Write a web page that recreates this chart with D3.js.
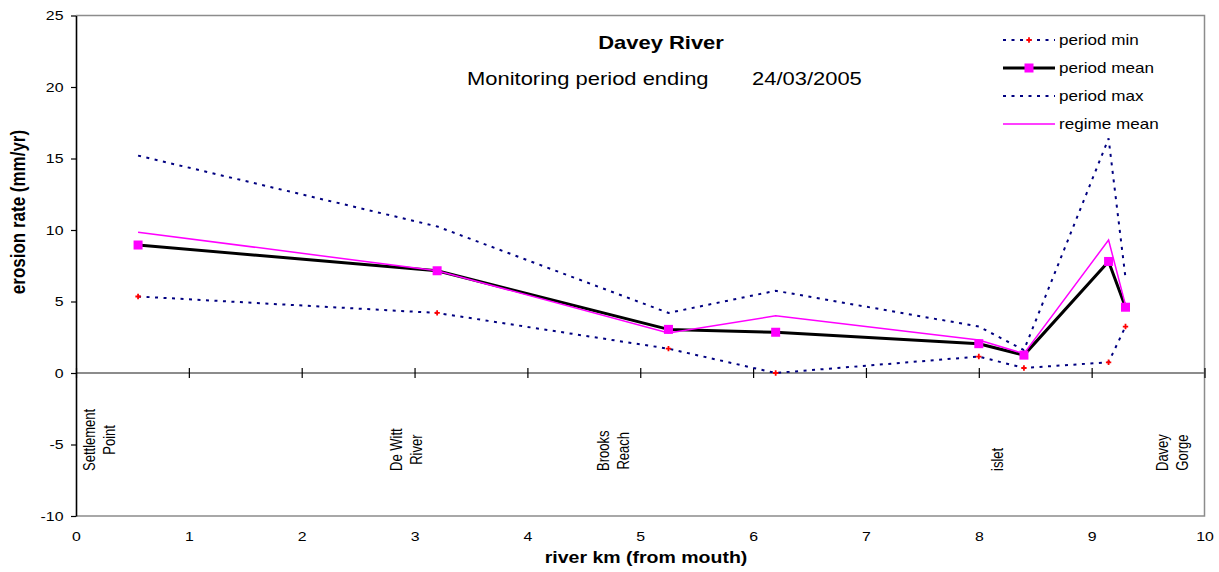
<!DOCTYPE html>
<html>
<head>
<meta charset="utf-8">
<script src="https://cdn.jsdelivr.net/npm/d3@7/dist/d3.min.js"></script>
<style>
  html, body { margin: 0; padding: 0; background: #fff; }
  svg { display: block; font-family: "Liberation Sans", Arial, sans-serif; }
</style>
</head>
<body>
<svg id="chart" width="1219" height="572"></svg>
<script>
// ---------------- data ----------------
const riverKm    = [0.55, 3.2, 5.25, 6.2, 8.0, 8.4, 9.15, 9.3];
const periodMin  = [5.35, 4.2, 1.7, 0.0, 1.15, 0.35, 0.75, 3.25];
const periodMean = [8.95, 7.15, 3.05, 2.85, 2.05, 1.25, 7.8, 4.6];
const periodMax  = [15.2, 10.25, 4.2, 5.75, 3.25, 1.6, 16.4, 6.65];
const regimeMean = [9.85, 7.15, 2.8, 4.0, 2.3, 1.35, 9.3, 4.75];

const xTicks = [0, 1, 2, 3, 4, 5, 6, 7, 8, 9, 10];
const yTicks = [-10, -5, 0, 5, 10, 15, 20, 25];

const siteNames = [["Settlement", "Point"], ["De Witt", "River"], ["Brooks", "Reach"], ["islet"], ["Davey", "Gorge"]];
const siteKm    = [0.2, 2.92, 4.76, 8.16, 9.71];

const legendLabels = ["period min", "period mean", "period max", "regime mean"];

const titleText = "Davey River";
const subtitleText = "Monitoring period ending";
const dateText = "24/03/2005";
const xTitle = "river km (from mouth)";
const yTitle = "erosion rate (mm/yr)";

// ---------------- layout ----------------
const SX = 1.22; // horizontal glyph stretch seen in the reference
const svg = d3.select("#chart");
const x = d3.scaleLinear().domain([0, 10]).range([76, 1204.5]);
const y = d3.scaleLinear().domain([-10, 25]).range([516, 15.5]);

const navy = "#000080", magenta = "#ff00ff";

function sText(g, txt, tx, ty, opt = {}) {
  const t = g.append("text")
    .attr("transform", `translate(${tx},${ty}) scale(${SX},1)` + (opt.rotate ? " rotate(-90)" : ""))
    .attr("font-size", opt.size || 13)
    .attr("font-weight", opt.bold ? "bold" : "normal")
    .attr("text-anchor", opt.anchor || "start")
    .attr("fill", "#000")
    .text(txt);
  if (opt.dy) t.attr("dy", opt.dy);
  return t;
}

// frame (top, right, bottom) grey
svg.append("path")
  .attr("d", `M${x(0)},${y(25)}H${x(10)}V${y(-10)}H${x(0)}`)
  .attr("fill", "none").attr("stroke", "#8c8c8c").attr("stroke-width", 1.5);

// zero line
svg.append("line")
  .attr("x1", x(0)).attr("x2", x(10)).attr("y1", y(0)).attr("y2", y(0))
  .attr("stroke", "#8c8c8c").attr("stroke-width", 2);

// x ticks crossing zero line
const xTickG = svg.append("g").attr("transform", `translate(0,${y(0)})`)
  .call(d3.axisBottom(x).tickValues(xTicks).tickFormat("").tickSizeOuter(0).tickSizeInner(5));
xTickG.select(".domain").remove();
xTickG.selectAll(".tick line").attr("y1", -5).attr("y2", 5).attr("stroke", "#000").attr("stroke-width", 1.2);

// x tick labels along bottom
const xLabG = svg.append("g").attr("transform", `translate(0,${y(-10)})`)
  .call(d3.axisBottom(x).tickValues(xTicks).tickFormat(d => String(d)).tickSize(0).tickPadding(15.8));
xLabG.select(".domain").remove();
xLabG.selectAll(".tick text")
  .attr("font-size", 13).attr("font-family", "Liberation Sans, Arial, sans-serif")
  .attr("fill", "#000").attr("transform", `scale(${SX},1)`);

// y axis
const yAxG = svg.append("g").attr("transform", `translate(${x(0)},0)`)
  .call(d3.axisLeft(y).tickValues(yTicks).tickFormat(d => String(d)).tickSizeOuter(0).tickSizeInner(5).tickPadding(7.5));
yAxG.select(".domain").attr("stroke", "#000").attr("stroke-width", 1.6);
yAxG.selectAll(".tick line").attr("stroke", "#000").attr("stroke-width", 1.2);
yAxG.selectAll(".tick text")
  .attr("font-size", 13).attr("font-family", "Liberation Sans, Arial, sans-serif").attr("fill", "#000")
  .each(function () {
    const tx = +this.getAttribute("x");
    d3.select(this).attr("x", 0).attr("transform", `translate(${tx},0) scale(${SX},1)`);
  });

// ---------------- series ----------------
const pts = vals => vals.map((v, i) => [x(riverKm[i]), y(v)]);
const line = d3.line();

const plot = svg.append("g");
plot.append("path").attr("d", line(pts(periodMin)))
  .attr("fill", "none").attr("stroke", navy).attr("stroke-width", 2).attr("stroke-dasharray", "3,5.5");
plot.append("path").attr("d", line(pts(periodMax)))
  .attr("fill", "none").attr("stroke", navy).attr("stroke-width", 2).attr("stroke-dasharray", "3,5.5");
plot.append("path").attr("d", line(pts(periodMean)))
  .attr("fill", "none").attr("stroke", "#000").attr("stroke-width", 3).attr("stroke-linejoin", "round");
plot.append("path").attr("d", line(pts(regimeMean)))
  .attr("fill", "none").attr("stroke", magenta).attr("stroke-width", 1.5);

const cross = d3.symbol().type(d3.symbolCross).size(16);
plot.selectAll(".minMark").data(pts(periodMin)).join("path")
  .attr("class", "minMark").attr("d", cross)
  .attr("transform", d => `translate(${d[0]},${d[1]})`).attr("fill", "#ff0000");

plot.selectAll(".meanMark").data(pts(periodMean)).join("rect")
  .attr("class", "meanMark")
  .attr("x", d => d[0] - 4.5).attr("y", d => d[1] - 4.5)
  .attr("width", 9).attr("height", 9).attr("fill", magenta);

// ---------------- site labels ----------------
const siteG = svg.append("g");
siteNames.forEach((lines, i) => {
  const cx = x(siteKm[i]);
  const n = lines.length;
  const texts = lines.map((ln, j) =>
    sText(siteG, ln, cx + (j - (n - 1) / 2) * 20, 0, { size: 13, rotate: true, anchor: "middle", dy: "0.38em" }));
  const maxLen = d3.max(texts, t => t.node().getComputedTextLength());
  texts.forEach((t, j) => {
    t.attr("transform", `translate(${cx + (j - (n - 1) / 2) * 20},${471 - maxLen / 2}) scale(${SX},1) rotate(-90)`);
  });
});

// ---------------- titles ----------------
sText(svg, titleText, 661, 49.3, { size: 18, bold: true, anchor: "middle" });
sText(svg, subtitleText, 467, 85, { size: 18 });
sText(svg, dateText, 752, 85, { size: 18 });
sText(svg, xTitle, 646, 563, { size: 16, bold: true, anchor: "middle" });
sText(svg, yTitle, 25, 212, { size: 17, bold: true, anchor: "middle", rotate: true });

// ---------------- legend ----------------
const lg = svg.append("g");
legendLabels.forEach((lab, i) => {
  const ry = 40 + i * 28;
  const seg = lg.append("line").attr("x1", 1003).attr("x2", 1055).attr("y1", ry).attr("y2", ry);
  if (i === 0 || i === 2) seg.attr("stroke", navy).attr("stroke-width", 2).attr("stroke-dasharray", "3,5.5");
  if (i === 1) seg.attr("stroke", "#000").attr("stroke-width", 3);
  if (i === 3) seg.attr("stroke", magenta).attr("stroke-width", 1.5);
  if (i === 0) lg.append("path").attr("d", cross).attr("transform", `translate(1029,${ry})`).attr("fill", "#ff0000");
  if (i === 1) lg.append("rect").attr("x", 1029 - 4.5).attr("y", ry - 4.5).attr("width", 9).attr("height", 9).attr("fill", magenta);
  sText(lg, lab, 1059, ry + 5, { size: 14 });
});
</script>
</body>
</html>
